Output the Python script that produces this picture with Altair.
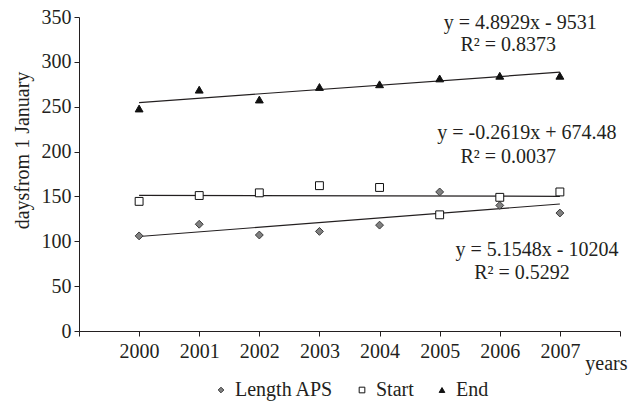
import altair as alt
import pandas as pd

years = [2000, 2001, 2002, 2003, 2004, 2005, 2006, 2007]
length_aps = [106, 119, 107, 111, 118, 155, 140, 131.5]
start = [144.5, 151, 154, 162, 160, 129.5, 149, 155]
end = [248, 269, 258, 272, 275, 281.5, 284.5, 284.5]

series_names = ["Length APS", "Start", "End"]
series_values = [length_aps, start, end]

eq_text = ["y = 4.8929x - 9531", "R² = 0.8373",
           "y = -0.2619x + 674.48", "R² = 0.0037",
           "y = 5.1548x - 10204", "R² = 0.5292"]
eq_x = [2006.34, 2006.14, 2006.45, 2006.14, 2006.62, 2006.37]
eq_y = [343.5, 318.5, 220.5, 194.5, 90.5, 64.5]

x_ticks = list(range(1999, 2009))
y_ticks = list(range(0, 351, 50))

rows = []
for name, vals in zip(series_names, series_values):
    for yr, v in zip(years, vals):
        rows.append({"series": name, "year": yr, "value": v})
df = pd.DataFrame(rows)
ann = pd.DataFrame({"text": eq_text, "x": eq_x, "y": eq_y})

FONT = "Liberation Serif"
INK = "#231f20"
FS = 20

xscale = alt.Scale(domain=[1999, 2008], nice=False, zero=False)
yscale = alt.Scale(domain=[0, 350], nice=False)

legend = alt.Legend(
    title=None, orient="none", direction="horizontal",
    legendX=132, legendY=363, labelFont=FONT, labelFontSize=FS,
    labelColor=INK, symbolSize=32, columnPadding=18, labelOffset=4,
    symbolStrokeWidth=1,
)

base = alt.Chart(df)

points = base.mark_point(opacity=1, fillOpacity=1, strokeWidth=1, size=62).encode(
    x=alt.X("year:Q", scale=xscale,
            axis=alt.Axis(values=x_ticks, format="d", grid=False,
                          labelExpr="(datum.value == 1999 || datum.value == 2008) ? '' : datum.label",
                          title="years", titleX=548, titleY=38, titleAlign="right",
                          titleBaseline="alphabetic", titleFont=FONT, titleFontSize=FS,
                          titleFontWeight="normal", titleColor=INK,
                          labelFont=FONT, labelFontSize=FS, labelColor=INK,
                          tickSize=5, tickColor=INK, domainColor=INK,
                          labelPadding=5, labelFlush=False)),
    y=alt.Y("value:Q", scale=yscale,
            axis=alt.Axis(values=y_ticks, grid=False,
                          title="daysfrom 1 January", titleFont=FONT, titleFontSize=FS,
                          titleFontWeight="normal", titleColor=INK, titleX=-57, titleY=133,
                          titleAngle=-90, titleBaseline="middle", titleAlign="center",
                          labelFont=FONT, labelFontSize=FS, labelColor=INK,
                          tickSize=5, tickColor=INK, domainColor=INK, labelPadding=3)),
    shape=alt.Shape("series:N", scale=alt.Scale(domain=series_names,
                                                range=["diamond", "square", "triangle-up"]),
                    legend=legend),
    fill=alt.Fill("series:N", scale=alt.Scale(domain=series_names,
                                              range=["#808080", "#ffffff", "#111111"]),
                  legend=legend),
    stroke=alt.Stroke("series:N", scale=alt.Scale(domain=series_names,
                                                  range=["#3a3a3a", "#111111", "#111111"]),
                      legend=legend),
)

trend = base.transform_regression(
    "year", "value", groupby=["series"], extent=[2000, 2007]
).mark_line(color=INK, strokeWidth=1.2).encode(
    x=alt.X("year:Q", scale=xscale),
    y=alt.Y("value:Q", scale=yscale),
    detail="series:N",
)

texts = alt.Chart(ann).mark_text(font=FONT, fontSize=FS, color=INK, align="center",
                                 baseline="middle").encode(
    x=alt.X("x:Q", scale=xscale),
    y=alt.Y("y:Q", scale=yscale),
    text="text:N",
)

chart = alt.layer(trend, points, texts).properties(
    width=541, height=314,
    autosize=alt.AutoSizeParams(type="none"),
    padding={"left": 79, "top": 17, "right": 21, "bottom": 72},
    background="white",
).configure_view(stroke=None)

chart.save("out.html", embed_options={"renderer": "svg", "actions": False})
